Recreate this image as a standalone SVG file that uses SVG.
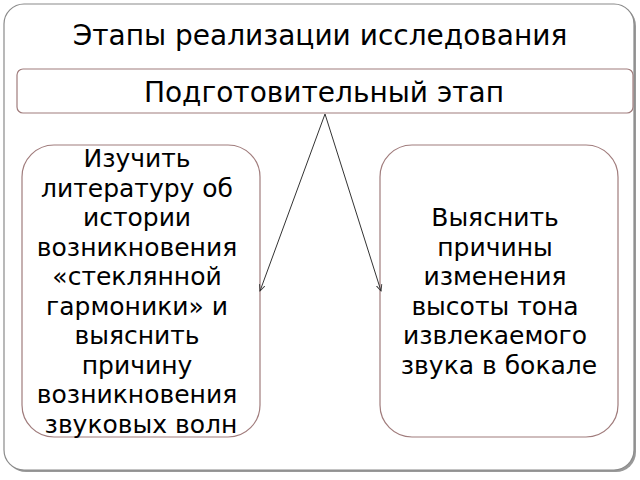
<svg xmlns="http://www.w3.org/2000/svg" width="640" height="480" viewBox="0 0 640 480">
<style>
text{font-family:"DejaVu Sans","Noto Sans",sans-serif;fill:#000;text-anchor:middle}
.box{fill:#fff;stroke:#a07c7c;stroke-width:1.2}
.t{font-size:25px}
.c{stroke:#333;stroke-width:1;fill:none;marker-end:url(#ah)}
</style>
<defs>
<marker id="ah" viewBox="0 0 10 10" refX="9" refY="5" markerWidth="7" markerHeight="7" orient="auto" markerUnits="userSpaceOnUse">
<path d="M0,1 L9,5 L0,9" fill="none" stroke="#333" stroke-width="1.3"/>
</marker>
</defs>
<rect width="640" height="480" fill="#fff"/>
<g id="frame">
<rect x="6" y="6" width="630" height="466" rx="20" fill="#555" opacity="0.6"/>
<rect x="4" y="4" width="630" height="466" rx="20" fill="#fff" stroke="#8a8a8a" stroke-width="1.2"/>
<text x="320" y="45" style="font-size:28px">Этапы реализации исследования</text>
</g>
<g id="header">
<rect class="box" x="17" y="69" width="616" height="44" rx="6"/>
<text x="324" y="102" style="font-size:28px">Подготовительный этап</text>
</g>
<g id="left">
<rect class="box" x="22" y="145" width="238" height="292" rx="32"/>
<text class="t" x="141">
<tspan x="141" y="167">Изучить</tspan>
<tspan x="141" y="196.5">литературу об</tspan>
<tspan x="141" y="226">истории</tspan>
<tspan x="141" y="255.5">возникновения</tspan>
<tspan x="141" y="285">«стеклянной</tspan>
<tspan x="141" y="314.5">гармоники» и</tspan>
<tspan x="141" y="344">выяснить</tspan>
<tspan x="141" y="373.5">причину</tspan>
<tspan x="141" y="403">возникновения</tspan>
<tspan x="141" y="432.5">звуковых волн</tspan>
</text>
</g>
<g id="right">
<rect class="box" x="380" y="145" width="238" height="292" rx="32"/>
<text class="t" x="499">
<tspan x="499" y="226">Выяснить</tspan>
<tspan x="499" y="255.5">причины</tspan>
<tspan x="499" y="285">изменения</tspan>
<tspan x="499" y="314.5">высоты тона</tspan>
<tspan x="499" y="344">извлекаемого</tspan>
<tspan x="499" y="373.5">звука в бокале</tspan>
</text>
</g>
<g id="connectors">
<line class="c" x1="325" y1="114" x2="260" y2="291"/>
<line class="c" x1="325" y1="114" x2="381" y2="291"/>
</g>
</svg>
